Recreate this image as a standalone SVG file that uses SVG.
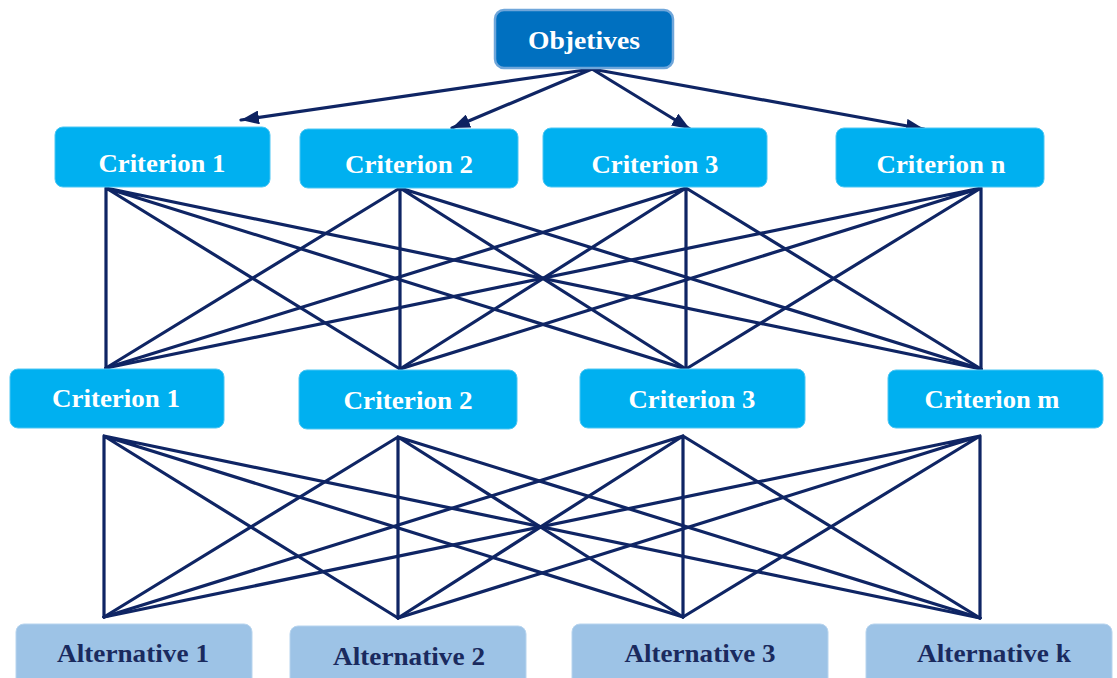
<svg xmlns="http://www.w3.org/2000/svg" width="1117" height="678" viewBox="0 0 1117 678">
<defs>
<marker id="ah" viewBox="0 0 18 14" refX="18" refY="7" markerWidth="18" markerHeight="14" markerUnits="userSpaceOnUse" orient="auto">
<path d="M0,0 L18,7 L0,14 Z" fill="#0D2260"/>
</marker>
<style>
.ln{stroke:#0F2564;stroke-width:3.2;fill:none;stroke-linecap:round}
.obj{fill:#0070C0;stroke:#6FA6DA;stroke-width:2.5}
.cr{fill:#00B0F0;stroke:#4CC6F3;stroke-width:1}
.al{fill:#9DC3E6;stroke:#B7D4EE;stroke-width:1}
.tw{font-family:"Liberation Serif","Times New Roman",serif;font-weight:bold;font-size:25px;fill:#FFFFFF;text-anchor:middle}
.td{font-family:"Liberation Serif","Times New Roman",serif;font-weight:bold;font-size:25px;fill:#1A2A5E;text-anchor:middle}
</style>
</defs>
<rect width="1117" height="678" fill="#FFFFFF"/>
<g id="connectors">
<g id="arrows">
<line class="ln" x1="592" y1="69" x2="241" y2="120" marker-end="url(#ah)"/>
<line class="ln" x1="592" y1="69" x2="452" y2="128" marker-end="url(#ah)"/>
<line class="ln" x1="592" y1="69" x2="690" y2="129" marker-end="url(#ah)"/>
<line class="ln" x1="592" y1="69" x2="924" y2="129" marker-end="url(#ah)"/>
</g>
<g id="links-top">
<path class="ln" d="M106,188 L106,368 M106,188 L400,369 M106,188 L686,369 M106,188 L981,369"/>
<path class="ln" d="M400,188 L106,368 M400,188 L400,369 M400,188 L686,369 M400,188 L981,369"/>
<path class="ln" d="M686,188 L106,368 M686,188 L400,369 M686,188 L686,369 M686,188 L981,369"/>
<path class="ln" d="M981,188 L106,368 M981,188 L400,369 M981,188 L686,369 M981,188 L981,369"/>
</g>
<g id="links-bottom">
<path class="ln" d="M104,436 L104,617 M104,436 L398,618 M104,436 L683,617 M104,436 L980,618"/>
<path class="ln" d="M398,437 L104,617 M398,437 L398,618 M398,437 L683,617 M398,437 L980,618"/>
<path class="ln" d="M683,436 L104,617 M683,436 L398,618 M683,436 L683,617 M683,436 L980,618"/>
<path class="ln" d="M980,436 L104,617 M980,436 L398,618 M980,436 L683,617 M980,436 L980,618"/>
</g>
</g>
<g id="objetives">
<rect class="obj" x="495" y="10" width="178" height="58" rx="9"/>
<text class="tw" x="584" y="49" textLength="112" lengthAdjust="spacingAndGlyphs">Objetives</text>
</g>
<g id="crit1-1">
<rect class="cr" x="55" y="127" width="215" height="60" rx="8"/>
<text class="tw" x="162" y="172" textLength="127" lengthAdjust="spacingAndGlyphs">Criterion 1</text>
</g>
<g id="crit1-2">
<rect class="cr" x="300" y="129" width="218" height="59" rx="8"/>
<text class="tw" x="409" y="173" textLength="128" lengthAdjust="spacingAndGlyphs">Criterion 2</text>
</g>
<g id="crit1-3">
<rect class="cr" x="543" y="128" width="224" height="59" rx="8"/>
<text class="tw" x="655" y="173" textLength="127" lengthAdjust="spacingAndGlyphs">Criterion 3</text>
</g>
<g id="crit1-n">
<rect class="cr" x="836" y="128" width="208" height="59" rx="8"/>
<text class="tw" x="941" y="173" textLength="129" lengthAdjust="spacingAndGlyphs">Criterion n</text>
</g>
<g id="crit2-1">
<rect class="cr" x="10" y="369" width="214" height="59" rx="8"/>
<text class="tw" x="116" y="407" textLength="128" lengthAdjust="spacingAndGlyphs">Criterion 1</text>
</g>
<g id="crit2-2">
<rect class="cr" x="299" y="370" width="218" height="59" rx="8"/>
<text class="tw" x="408" y="409" textLength="129" lengthAdjust="spacingAndGlyphs">Criterion 2</text>
</g>
<g id="crit2-3">
<rect class="cr" x="580" y="369" width="225" height="59" rx="8"/>
<text class="tw" x="692" y="408" textLength="127" lengthAdjust="spacingAndGlyphs">Criterion 3</text>
</g>
<g id="crit2-m">
<rect class="cr" x="888" y="370" width="215" height="58" rx="8"/>
<text class="tw" x="992" y="408" textLength="135" lengthAdjust="spacingAndGlyphs">Criterion m</text>
</g>
<g id="alt-1">
<rect class="al" x="16" y="624" width="236" height="62" rx="8"/>
<text class="td" x="133" y="662" textLength="152" lengthAdjust="spacingAndGlyphs">Alternative 1</text>
</g>
<g id="alt-2">
<rect class="al" x="290" y="626" width="236" height="60" rx="8"/>
<text class="td" x="409" y="665" textLength="152" lengthAdjust="spacingAndGlyphs">Alternative 2</text>
</g>
<g id="alt-3">
<rect class="al" x="572" y="624" width="256" height="62" rx="8"/>
<text class="td" x="700" y="662" textLength="151" lengthAdjust="spacingAndGlyphs">Alternative 3</text>
</g>
<g id="alt-k">
<rect class="al" x="866" y="624" width="246" height="62" rx="8"/>
<text class="td" x="994" y="662" textLength="154" lengthAdjust="spacingAndGlyphs">Alternative k</text>
</g>
</svg>
